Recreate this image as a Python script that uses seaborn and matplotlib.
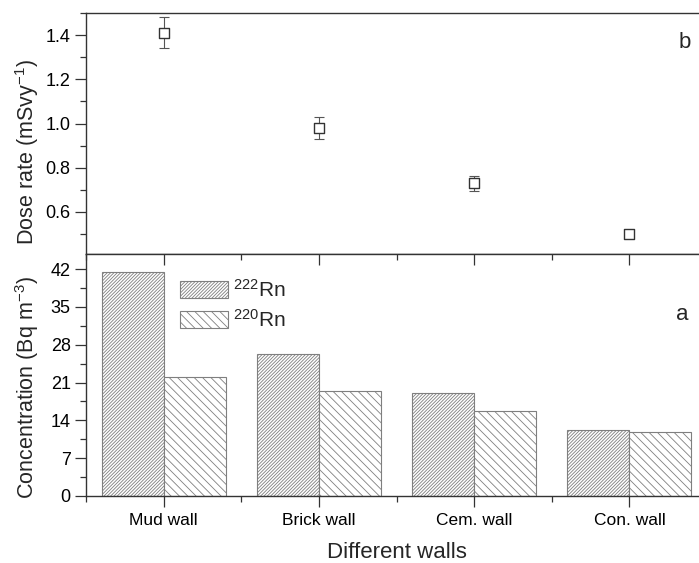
import numpy as np
import pandas as pd
import matplotlib
matplotlib.use("Agg")
import matplotlib.pyplot as plt
from matplotlib.ticker import MultipleLocator, FixedLocator, FormatStrFormatter
import seaborn as sns

# ---- data ----
walls = ["Mud wall", "Brick wall", "Cem. wall", "Con. wall"]
rn222 = [41.4, 26.2, 19.0, 12.2]
rn220 = [22.0, 19.4, 15.8, 11.8]
dose = [1.41, 0.98, 0.73, 0.50]
dose_err = [0.07, 0.05, 0.035, 0.01]
isotopes = [r"$^{\mathregular{222}}$Rn", r"$^{\mathregular{220}}$Rn"]

sns.set_theme(style="ticks")
plt.rcParams["font.family"] = ["Liberation Sans", "DejaVu Sans"]
plt.rcParams["mathtext.fontset"] = "custom"
plt.rcParams["mathtext.rm"] = "Liberation Sans"
plt.rcParams["mathtext.it"] = "Liberation Sans:italic"
plt.rcParams["hatch.linewidth"] = 0.6

frame = "#333333"
edge = "#7f7f7f"

fig = plt.figure(figsize=(6.99, 5.63), dpi=100)
W, H = 699, 563
left_px, right_px = 86, 707
ax_top = fig.add_axes([left_px / W, 1 - 254 / H, (right_px - left_px) / W, 241 / H])
ax_bot = fig.add_axes([left_px / W, 1 - 496 / H, (right_px - left_px) / W, 242 / H])

# ---- panel a: bar chart of concentrations ----
df = pd.DataFrame({
    "wall": walls * 2,
    "isotope": [isotopes[0]] * 4 + [isotopes[1]] * 4,
    "value": rn222 + rn220,
})
sns.barplot(data=df, x="wall", y="value", hue="isotope", order=walls,
            hue_order=isotopes, palette=["white", "white"], width=0.8,
            ax=ax_bot, legend=False, saturation=1)
hatches = ["/" * 10, "\\" * 4]
for cont, h in zip(ax_bot.containers, hatches):
    for p in cont:
        p.set_hatch(h)
        p.set_facecolor("white")
        p.set_edgecolor(edge)
        p.set_linewidth(0.8)

handles = [ax_bot.containers[0][0], ax_bot.containers[1][0]]
leg = ax_bot.legend(handles, isotopes, loc="upper left",
                    bbox_to_anchor=(0.151, 0.897), frameon=False,
                    fontsize=15, handlelength=2.3, handleheight=0.92,
                    handletextpad=0.25, labelspacing=0.38, borderpad=0,
                    borderaxespad=0)

ax_bot.set_xlim(-0.5, 3.5)
ax_bot.set_ylim(0, 44.8)
ax_bot.yaxis.set_major_locator(MultipleLocator(7))
ax_bot.yaxis.set_minor_locator(FixedLocator(np.arange(3.5, 44, 7)))
ax_bot.xaxis.set_minor_locator(FixedLocator(np.arange(-0.5, 3.6, 1)))
ax_bot.set_xlabel("Different walls", fontsize=16, labelpad=10)
ax_bot.set_ylabel(r"Concentration (Bq m$^{\mathregular{-3}}$)", fontsize=15.5)
ax_bot.yaxis.set_label_coords(-0.073, 0.448)
ax_bot.text(0.9606, 0.727, "a", transform=ax_bot.transAxes, ha="center",
            va="baseline", fontsize=16)

# ---- panel b: dose rate with error bars ----
xpos = np.arange(len(walls))
ax_top.errorbar(xpos, dose, yerr=dose_err, fmt="none", ecolor="#555555",
                elinewidth=0.8, capsize=3.5, capthick=0.8, zorder=2)
sns.scatterplot(x=xpos, y=dose, marker="s", s=50, facecolor="white",
                edgecolor="#333333", linewidth=1.0, ax=ax_top, zorder=3)
ax_top.set_xlim(-0.5, 3.5)
ax_top.set_ylim(0.41, 1.5)
ax_top.yaxis.set_major_locator(MultipleLocator(0.2))
ax_top.yaxis.set_minor_locator(FixedLocator(np.arange(0.5, 1.55, 0.2)))
ax_top.yaxis.set_major_formatter(FormatStrFormatter("%.1f"))
ax_top.set_xticks([])
ax_top.set_ylabel(r"Dose rate (mSvy$^{\mathregular{-1}}$)", fontsize=15.5)
ax_top.yaxis.set_label_coords(-0.073, 0.423)
ax_top.text(0.9646, 0.855, "b", transform=ax_top.transAxes, ha="center",
            va="baseline", fontsize=16)

# ---- frames and ticks ----
for ax in (ax_top, ax_bot):
    for s in ax.spines.values():
        s.set_color(frame)
        s.set_linewidth(1.0)
    ax.spines["right"].set_visible(False)
    ax.tick_params(axis="both", which="both", colors=frame, labelcolor="black",
                   width=0.9)
    ax.tick_params(axis="y", which="major", direction="out", length=8,
                   labelsize=13, pad=3)
    ax.tick_params(axis="y", which="minor", direction="out", length=4.5)
    ax.set_facecolor("white")

ax_bot.tick_params(axis="x", which="major", direction="out", length=8,
                   labelsize=12.5, pad=4)
ax_bot.tick_params(axis="x", which="minor", direction="out", length=4)
# inward ticks along the shared boundary between the panels
sec = ax_bot.secondary_xaxis("top")
sec.set_xticks(xpos)
sec.xaxis.set_minor_locator(FixedLocator(np.arange(-0.5, 3.6, 1)))
sec.tick_params(axis="x", which="major", direction="in", length=8,
                colors=frame, width=0.9, labeltop=False)
sec.tick_params(axis="x", which="minor", direction="in", length=4,
                colors=frame, width=0.9)
sec.spines["top"].set_visible(False)

fig.savefig("out.png", dpi=100, facecolor="white")
